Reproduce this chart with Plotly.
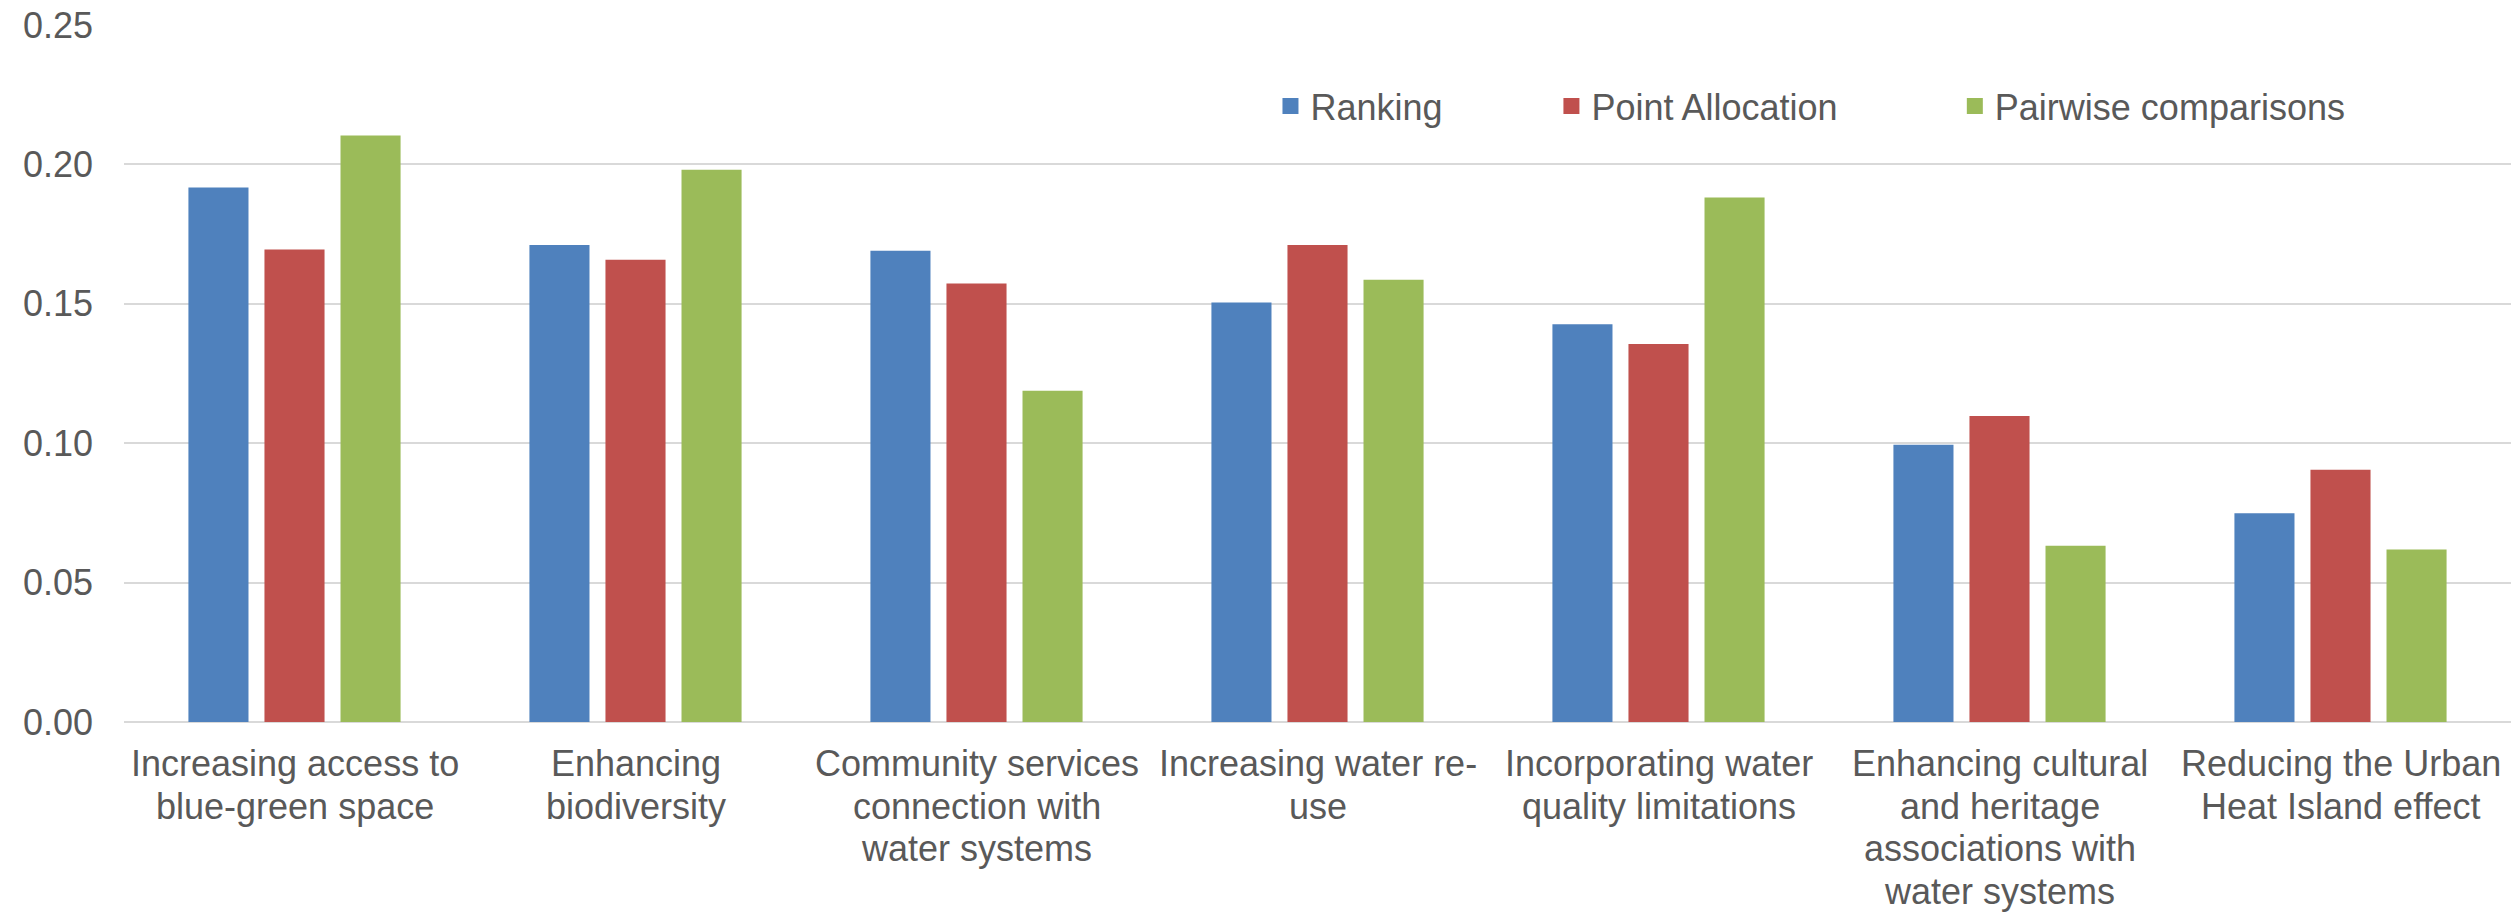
import plotly.graph_objects as go

categories = [
    "Increasing access to<br>blue-green space",
    "Enhancing<br>biodiversity",
    "Community services<br>connection with<br>water systems",
    "Increasing water re-<br>use",
    "Incorporating water<br>quality limitations",
    "Enhancing cultural<br>and heritage<br>associations with<br>water systems",
    "Reducing the Urban<br>Heat Island effect",
]

ranking = [0.1917, 0.1711, 0.1690, 0.1505, 0.1427, 0.0994, 0.0749]
point_allocation = [0.1695, 0.1658, 0.1573, 0.1711, 0.1356, 0.1098, 0.0905]
pairwise = [0.2104, 0.1981, 0.1188, 0.1586, 0.1881, 0.0632, 0.0619]

y_ticks = [0.00, 0.05, 0.10, 0.15, 0.20, 0.25]

series = [
    ("Ranking", ranking, "#4F81BD", "legend"),
    ("Point Allocation", point_allocation, "#C0504D", "legend2"),
    ("Pairwise comparisons", pairwise, "#9BBB59", "legend3"),
]

text_color = "#595959"
label_size = 36
line_step = 42.5      # tighter line spacing for the category labels
first_line_shift = 19

fig = go.Figure()
for name, vals, color, leg in series:
    fig.add_trace(go.Bar(
        x=categories, y=vals, name=name,
        marker=dict(color=color, line=dict(width=0)),
        showlegend=False,
    ))
    # legend key: a larger square swatch than the default bar glyph
    fig.add_trace(go.Scatter(
        x=[None], y=[None], name=name, mode="markers",
        marker=dict(symbol="square", size=19, color=color, line=dict(width=0)),
        legend=leg, showlegend=True, hoverinfo="skip",
    ))

# category labels, one annotation per line so the line spacing can be set
for cat in categories:
    for i, line in enumerate(cat.split("<br>")):
        fig.add_annotation(
            x=cat, xref="x", y=0, yref="paper",
            text=line, showarrow=False,
            xanchor="center", yanchor="top",
            yshift=-(first_line_shift + i * line_step),
            font=dict(family="Liberation Sans, Arial", size=label_size, color=text_color),
        )

legend_font = dict(family="Liberation Sans, Arial", size=36, color=text_color)

def legend_at(x):
    return dict(
        x=x, y=0.8835, xanchor="left", yanchor="middle",
        orientation="h", font=legend_font, itemsizing="trace",
        bgcolor="rgba(0,0,0,0)", borderwidth=0,
    )

fig.update_layout(
    width=2519, height=912,
    margin=dict(l=124, r=8, t=25, b=190, autoexpand=False),
    paper_bgcolor="white", plot_bgcolor="white",
    barmode="group", bargap=0.331, bargroupgap=0.21,
    font=dict(family="Liberation Sans, Arial", size=36, color=text_color),
    showlegend=True,
    legend=legend_at(0.4803),
    legend2=legend_at(0.598),
    legend3=legend_at(0.767),
    xaxis=dict(
        showgrid=False, showline=False, zeroline=False,
        showticklabels=False, ticks="", automargin=False,
    ),
    yaxis=dict(
        range=[0, 0.25], tickvals=y_ticks,
        tickformat=".2f",
        showgrid=True, gridcolor="#D9D9D9", gridwidth=2,
        zeroline=True, zerolinecolor="#D9D9D9", zerolinewidth=2,
        showline=False, ticks="",
        tickfont=dict(size=36, color=text_color),
        ticklabelstandoff=30, automargin=False,
    ),
)

fig.write_html("out.html")
